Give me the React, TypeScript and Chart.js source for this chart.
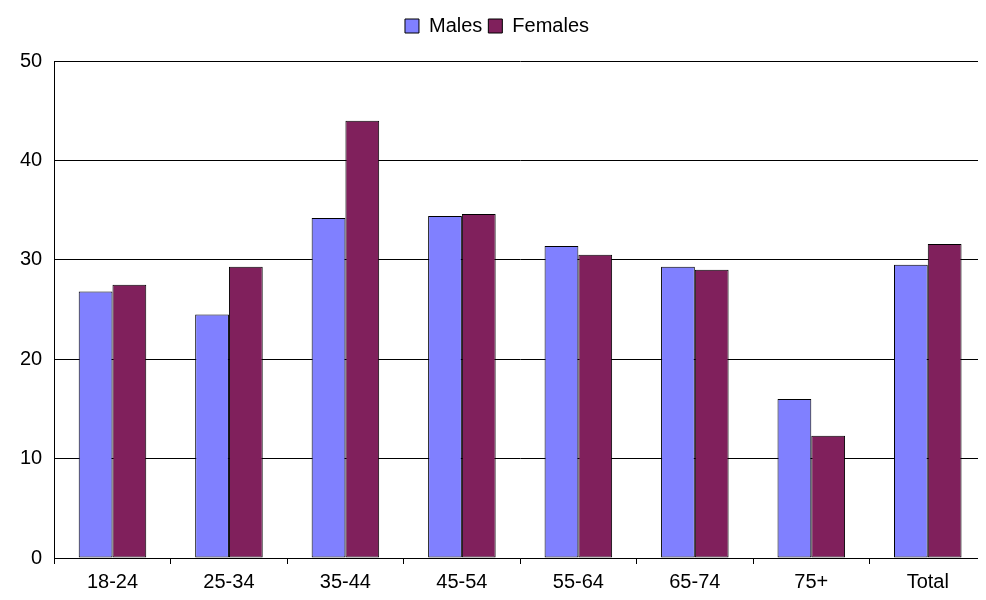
import { useEffect, useRef } from "react"
import { Chart, registerables } from "chart.js"

Chart.register(...registerables)

const categories = ["18-24", "25-34", "35-44", "45-54", "55-64", "65-74", "75+", "Total"]
const males = [26.8, 24.5, 34.2, 34.4, 31.4, 29.3, 16.0, 29.5]
const females = [27.5, 29.3, 44.0, 34.6, 30.5, 29.0, 12.3, 31.6]

// extra gap below the legend
const legendGap = {
  id: "legendGap",
  afterInit(chart: any) {
    const legend = chart.legend
    if (!legend) return
    const fit = legend.fit
    legend.fit = function () {
      fit.call(this)
      this.height += 15
    }
  },
}

export default function App() {
  const chartRef = useRef<HTMLCanvasElement>(null)
  const chartInstance = useRef<Chart | null>(null)

  useEffect(() => {
    if (!chartRef.current) return
    if (chartInstance.current) chartInstance.current.destroy()
    const ctx = chartRef.current.getContext("2d")
    if (!ctx) return

    chartInstance.current = new Chart(ctx, {
      type: "bar",
      data: {
        labels: categories,
        datasets: [
          { label: "Males", data: males, backgroundColor: "#8080ff", borderColor: "#000", borderWidth: 1, borderSkipped: false },
          { label: "Females", data: females, backgroundColor: "#80205c", borderColor: "#000", borderWidth: 1, borderSkipped: false },
        ],
      },
      plugins: [legendGap],
      options: {
        animation: false,
        responsive: true,
        maintainAspectRatio: false,
        layout: { padding: { left: 0, right: 0, top: 2, bottom: 0 } },
        datasets: { bar: { categoryPercentage: 0.58, barPercentage: 1 } },
        plugins: {
          tooltip: { enabled: false },
          legend: {
            position: "top",
            labels: {
              color: "#000",
              font: { family: "Liberation Sans", size: 20 },
              boxWidth: 14,
              boxHeight: 14,
              padding: 6,
            },
          },
        },
        scales: {
          x: {
            grid: { offset: true, drawOnChartArea: false, color: "#000", tickLength: 6 },
            border: { color: "#000" },
            ticks: { color: "#000", font: { family: "Liberation Sans", size: 20 }, padding: 6 },
          },
          y: {
            min: 0,
            max: 50,
            ticks: { stepSize: 10, color: "#000", font: { family: "Liberation Sans", size: 20 }, padding: 12 },
            grid: { color: "#000", drawTicks: false },
            border: { color: "#000" },
          },
        },
      },
    })

    return () => {
      if (chartInstance.current) chartInstance.current.destroy()
    }
  }, [])

  return (
    <div style={{ width: 978, height: 592 }}>
      <canvas ref={chartRef} />
    </div>
  )
}
